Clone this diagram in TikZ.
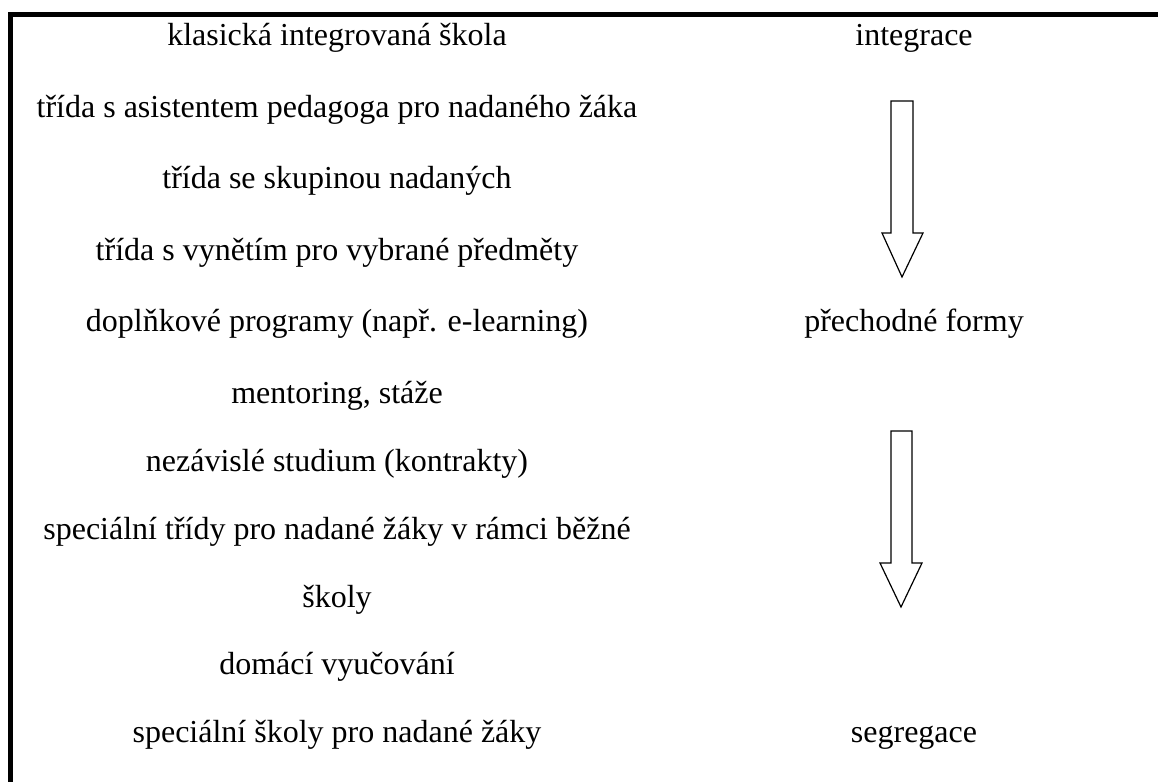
\documentclass[tikz,border=0pt]{standalone}
\usepackage{fontspec}
\setmainfont{Liberation Serif}
\begin{document}
\begin{tikzpicture}[x=1pt,y=1pt,
  lbl/.style={anchor=base,inner sep=0pt,font=\fontsize{32}{38}\selectfont},
  rule/.style={line width=5pt},
  blockarrow/.style={draw=black,line width=1.2pt,fill=white,line join=miter}]
\useasboundingbox (0,0) rectangle (1158,-782);
% frame lines
\draw[rule] (8,-14.5) -- (1158,-14.5);
\draw[rule] (10.5,-12) -- (10.5,-782);
% left column
\node[lbl] (l1) at (337,-45) {klasická integrovaná škola};
\node[lbl] (l2) at (337,-117) {třída s asistentem pedagoga pro nadaného žáka};
\node[lbl] (l3) at (337,-188) {třída se skupinou nadaných};
\node[lbl] (l4) at (337,-260) {třída s vynětím pro vybrané předměty};
\node[lbl] (l5) at (337,-331) {doplňkové programy (např. e-learning)};
\node[lbl] (l6) at (337,-403) {mentoring, stáže};
\node[lbl] (l7) at (337,-471) {nezávislé studium (kontrakty)};
\node[lbl] (l8) at (337,-539) {speciální třídy pro nadané žáky v rámci běžné};
\node[lbl] (l8b) at (337,-607) {školy};
\node[lbl] (l9) at (337,-674) {domácí vyučování};
\node[lbl] (l10) at (337,-742) {speciální školy pro nadané žáky};
% right column
\node[lbl] (r1) at (914,-45) {integrace};
\node[lbl] (r2) at (914,-331) {přechodné formy};
\node[lbl] (r3) at (914,-742) {segregace};
% block arrows
\draw[blockarrow] (891,-101) -- (913,-101) -- (913,-233) -- (923,-233) -- (902,-277)
  -- (882,-233) -- (891,-233) -- cycle;
\draw[blockarrow] (891,-431) -- (912,-431) -- (912,-563) -- (922,-563) -- (901,-607)
  -- (880,-563) -- (891,-563) -- cycle;
\end{tikzpicture}
\end{document}
